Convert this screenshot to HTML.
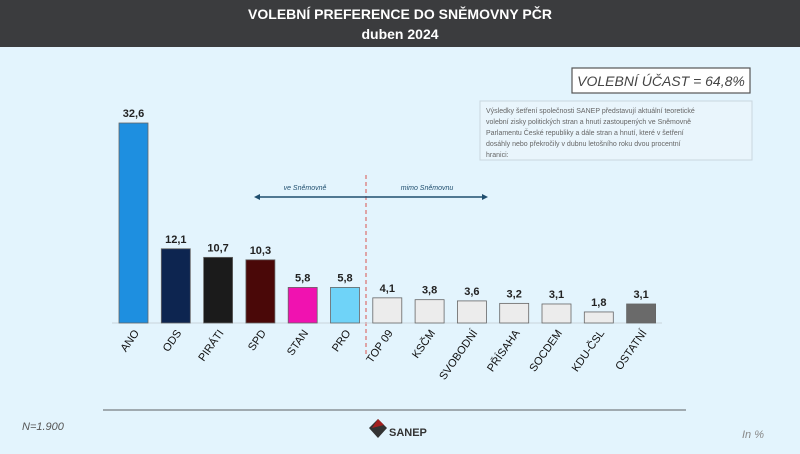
<!DOCTYPE html>
<html><head><meta charset="utf-8"><style>
body{margin:0;width:800px;height:449px;overflow:hidden;background:#e3f4fd;font-family:"Liberation Sans",sans-serif}
</style></head><body>
<svg width="800" height="449" viewBox="0 0 800 449">
<rect x="0" y="0" width="800" height="449" fill="#e3f4fd"/>
<rect x="0" y="0" width="800" height="47" fill="#3b3c3e"/>
<text x="400" y="19" text-anchor="middle" fill="#fff" font-weight="bold" font-size="14">VOLEBNÍ PREFERENCE DO SNĚMOVNY PČR</text>
<text x="400" y="39" text-anchor="middle" fill="#fff" font-weight="bold" font-size="14">duben 2024</text>
<rect x="572" y="68" width="178" height="25" fill="#fff" stroke="#555" stroke-width="1.2"/>
<text x="661" y="86" text-anchor="middle" font-size="14" font-style="italic" fill="#444">VOLEBNÍ ÚČAST = 64,8%</text>
<rect x="480" y="101" width="272" height="59" fill="#e9f5fc" stroke="#c9d6de"/>
<g font-size="7" fill="#666">
<text x="486" y="113">Výsledky šetření společnosti SANEP představují aktuální teoretické</text>
<text x="486" y="124">volební zisky politických stran a hnutí zastoupených ve Sněmovně</text>
<text x="486" y="135">Parlamentu České republiky a dále stran a hnutí, které v šetření</text>
<text x="486" y="146">dosáhly nebo překročily v dubnu letošního roku dvou procentní</text>
<text x="486" y="157">hranici:</text>
</g>
<line x1="366" y1="175" x2="366" y2="357" stroke="#d9534f" stroke-dasharray="4,3" stroke-width="1"/>
<line x1="366" y1="197" x2="258" y2="197" stroke="#1f4e6e" stroke-width="1.5"/>
<polygon points="254,197 260,194 260,200" fill="#1f4e6e"/>
<line x1="366" y1="197" x2="484" y2="197" stroke="#1f4e6e" stroke-width="1.5"/>
<polygon points="488,197 482,194 482,200" fill="#1f4e6e"/>
<text x="305" y="190" text-anchor="middle" font-size="7" font-style="italic" fill="#1f4e6e">ve Sněmovně</text>
<text x="427" y="190" text-anchor="middle" font-size="7" font-style="italic" fill="#1f4e6e">mimo Sněmovnu</text>
<line x1="112" y1="323" x2="662" y2="323" stroke="#c8d4da" stroke-width="1"/>
<g id="bars"></g>
<line x1="103" y1="410" x2="686" y2="410" stroke="#8a9297" stroke-width="1.5"/>
<text x="22" y="430" font-size="11" font-style="italic" fill="#555">N=1.900</text>
<text x="742" y="438" font-size="11" font-style="italic" fill="#888">In %</text>
<g>
<path d="M378 419 L387 428 L378 438 L369 428 Z" fill="#333"/>
<path d="M378 419 L384 425 L372 428 Z" fill="#a32020"/>
<text x="389" y="436" font-size="11" font-weight="bold" fill="#333">SANEP</text>
</g>
</svg>
<script>
const categories=["ANO","ODS","PIRÁTI","SPD","STAN","PRO","TOP 09","KSČM","SVOBODNÍ","PŘÍSAHA","SOCDEM","KDU-ČSL","OSTATNÍ"];
const values=[32.6,12.1,10.7,10.3,5.8,5.8,4.1,3.8,3.6,3.2,3.1,1.8,3.1];
const valueLabels=["32,6","12,1","10,7","10,3","5,8","5,8","4,1","3,8","3,6","3,2","3,1","1,8","3,1"];
const colors=["#1e8fe0","#0d2550","#1b1b1b","#4a0808","#f012b0","#6fd3f8","#ececec","#ececec","#ececec","#ececec","#ececec","#ececec","#6a6a6a"];
const ns="http://www.w3.org/2000/svg";
const g=document.getElementById('bars');
const baseY=323, pxPer=200/32.6, x0=133.5, step=42.3, bw=29;
function xS(i){return x0+i*step;}
function yS(v){return baseY-v*pxPer;}
categories.forEach((c,i)=>{
  const r=document.createElementNS(ns,'rect');
  r.setAttribute('x',xS(i)-bw/2);r.setAttribute('y',yS(values[i]));
  r.setAttribute('width',bw);r.setAttribute('height',baseY-yS(values[i]));
  r.setAttribute('fill',colors[i]);r.setAttribute('stroke','#666');r.setAttribute('stroke-width','0.8');
  
  
  g.appendChild(r);
  const t=document.createElementNS(ns,'text');
  t.setAttribute('x',xS(i));t.setAttribute('y',yS(values[i])-6);
  t.setAttribute('text-anchor','middle');t.setAttribute('font-size','11');t.setAttribute('font-weight','bold');t.setAttribute('fill','#222');
  t.textContent=valueLabels[i];
  
  
  g.appendChild(t);
  const l=document.createElementNS(ns,'text');
  l.setAttribute('transform','translate('+(xS(i)+6)+','+(baseY+10)+') rotate(-55)');
  l.setAttribute('text-anchor','end');l.setAttribute('font-size','11');l.setAttribute('fill','#111');
  l.textContent=c;
  
  
  g.appendChild(l);
});
</script>
</body></html>
